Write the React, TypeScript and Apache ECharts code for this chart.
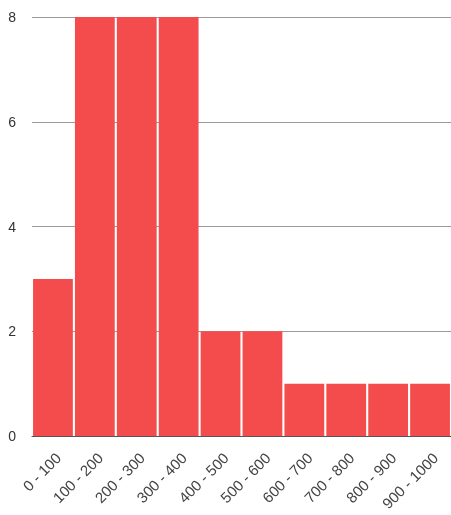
import React, { useEffect, useRef } from "react";
import * as echarts from "echarts";

const categories = ["0 - 100", "100 - 200", "200 - 300", "300 - 400", "400 - 500", "500 - 600", "600 - 700", "700 - 800", "800 - 900", "900 - 1000"];
const counts = [3, 8, 8, 8, 2, 2, 1, 1, 1, 1];
const yTicks = [0, 2, 4, 6, 8];

export default function App() {
  const ref = useRef<HTMLDivElement>(null);
  useEffect(() => {
    const chart = echarts.init(ref.current!, undefined, { renderer: "svg" });
    chart.setOption({
      animation: false,
      grid: { left: 32, right: 0, top: 17, bottom: 79, containLabel: false },
      xAxis: {
        type: "category",
        data: categories,
        axisTick: { show: false },
        axisLine: { show: true, lineStyle: { color: "#555", width: 1 } },
        axisLabel: {
          rotate: 45,
          interval: 0,
          color: "#444",
          fontSize: 15,
          fontFamily: "Liberation Sans, Arial, sans-serif",
          verticalAlign: "top",
          margin: 14,
        },
      },
      yAxis: {
        type: "value",
        min: yTicks[0],
        max: yTicks[yTicks.length - 1],
        interval: 2,
        axisLine: { show: false },
        axisTick: { show: false },
        splitLine: { lineStyle: { color: "#9a9a9a", width: 1 } },
        axisLabel: {
          color: "#333",
          fontSize: 14,
          fontFamily: "Liberation Sans, Arial, sans-serif",
          margin: 16,
        },
      },
      series: [
        {
          type: "bar",
          data: counts,
          barCategoryGap: "5%",
          itemStyle: { color: "#f44c4c" },
        },
      ],
    });
    return () => chart.dispose();
  }, []);
  return <div ref={ref} style={{ position: "fixed", left: 0, top: 0, width: 451, height: 515 }} />;
}
